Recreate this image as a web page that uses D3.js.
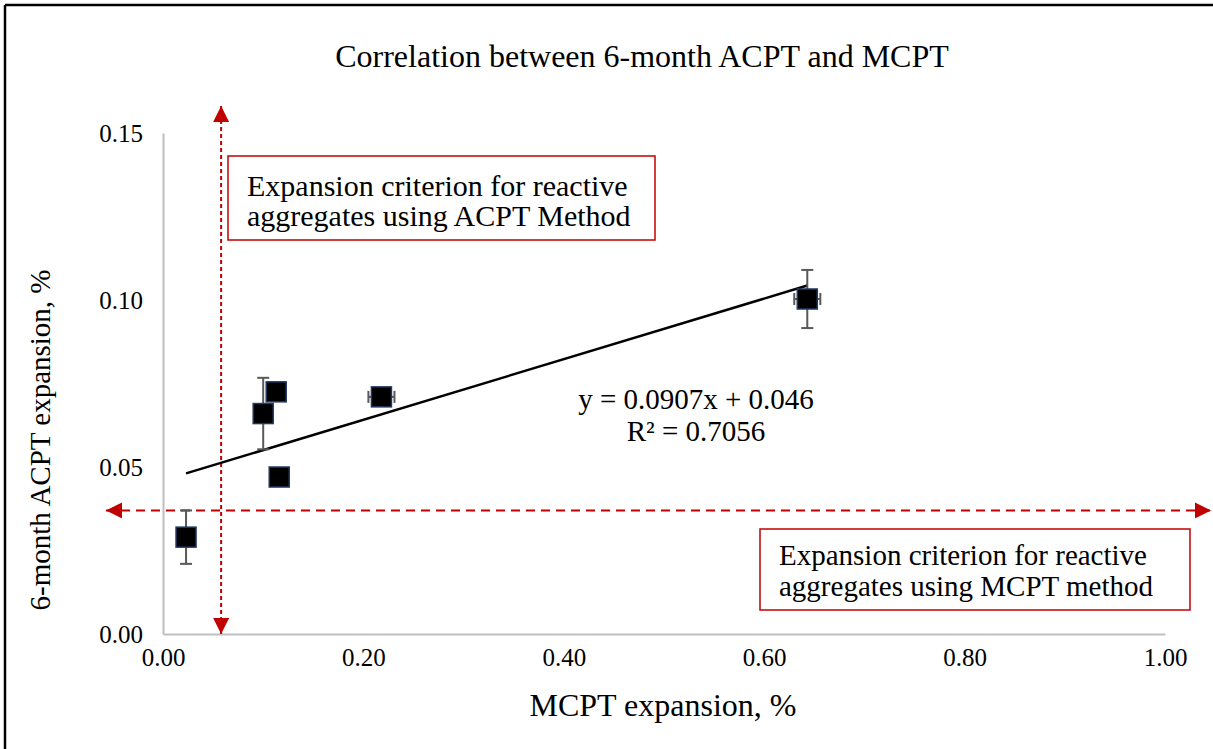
<!DOCTYPE html>
<html>
<head>
<meta charset="utf-8">
<script src="https://cdn.jsdelivr.net/npm/d3@7"></script>
<style>
  body { margin: 0; background: #fff; }
  svg { display: block; font-family: "Liberation Serif", "Times New Roman", serif; }
</style>
</head>
<body>
<svg id="chart" width="1213" height="749"></svg>
<script>
// data
const mcpt = [0.023, 0.100, 0.113, 0.116, 0.218, 0.643];
const acpt = [0.029, 0.066, 0.0725, 0.047, 0.071, 0.1003];
const acptErr = [0.008, 0.0107, 0, 0, 0, 0.0087];
const mcptErr = [0, 0, 0, 0, 0.013, 0.013];
const xTicks = [0, 0.2, 0.4, 0.6, 0.8, 1.0];
const yTicks = [0, 0.05, 0.10, 0.15];
const slope = 0.0907, intercept = 0.046;
const trendRange = [0.023, 0.643];
const acptCriterion = 0.037;   // horizontal red line
const mcptCriterion = 0.058;   // vertical red line

const svg = d3.select("#chart");

// outer frame (top and left edges visible)
svg.append("line").attr("x1", 5).attr("y1", 5).attr("x2", 1213).attr("y2", 5)
    .attr("stroke", "#000").attr("stroke-width", 2.5);
svg.append("line").attr("x1", 5).attr("y1", 5).attr("x2", 5).attr("y2", 749)
    .attr("stroke", "#000").attr("stroke-width", 2.5);

const x = d3.scaleLinear().domain([0, 1]).range([163, 1165]);
const y = d3.scaleLinear().domain([0, 0.15]).range([634, 133]);

// axes
const xAxis = svg.append("g").attr("transform", "translate(0,634)")
    .call(d3.axisBottom(x).tickValues(xTicks).tickFormat(d3.format(".2f")).tickSize(0).tickPadding(14));
const yAxis = svg.append("g").attr("transform", "translate(163,0)")
    .call(d3.axisLeft(y).tickValues(yTicks).tickFormat(d3.format(".2f")).tickSize(0).tickPadding(20));
[xAxis, yAxis].forEach(g => {
  g.select(".domain").attr("stroke", "#bfbfbf").attr("stroke-width", 2);
  g.selectAll("text").attr("font-size", 25).attr("fill", "#000")
    .attr("font-family", "Liberation Serif, serif");
});
xAxis.selectAll("text").attr("dy", "0.72em");

// title and axis titles
svg.append("text").attr("x", 642).attr("y", 67).attr("text-anchor", "middle")
    .attr("font-size", 32).text("Correlation between 6-month ACPT and MCPT");
svg.append("text").attr("x", 663).attr("y", 716).attr("text-anchor", "middle")
    .attr("font-size", 32).text("MCPT expansion, %");
svg.append("text").attr("transform", "translate(50,440) rotate(-90)").attr("text-anchor", "middle")
    .attr("font-size", 29).text("6-month ACPT expansion, %");

// red markers for arrows
const defs = svg.append("defs");
defs.append("marker").attr("id", "arrow").attr("viewBox", "0 0 10 10")
    .attr("refX", 10).attr("refY", 5).attr("markerWidth", 16).attr("markerHeight", 16)
    .attr("markerUnits", "userSpaceOnUse").attr("orient", "auto-start-reverse")
    .append("path").attr("d", "M0,0 L10,5 L0,10 Z").attr("fill", "#c00000");

// criterion lines
svg.append("line")
    .attr("x1", x(mcptCriterion)).attr("x2", x(mcptCriterion))
    .attr("y1", 106).attr("y2", 634)
    .attr("stroke", "#c00000").attr("stroke-width", 2).attr("stroke-dasharray", "4,3")
    .attr("marker-start", "url(#arrow)").attr("marker-end", "url(#arrow)");
svg.append("line")
    .attr("x1", 106).attr("x2", 1211)
    .attr("y1", y(acptCriterion)).attr("y2", y(acptCriterion))
    .attr("stroke", "#c00000").attr("stroke-width", 2).attr("stroke-dasharray", "9,6")
    .attr("marker-start", "url(#arrow)").attr("marker-end", "url(#arrow)");

// text boxes
const boxes = [
  { x: 228, y: 156, w: 427, h: 84, fs: 30, dy: [40, 70], lines: ["Expansion criterion for reactive", "aggregates using ACPT Method"] },
  { x: 760, y: 529, w: 430, h: 81, fs: 29, dy: [36, 67], lines: ["Expansion criterion for reactive", "aggregates using MCPT method"] }
];
boxes.forEach(b => {
  svg.append("rect").attr("x", b.x).attr("y", b.y).attr("width", b.w).attr("height", b.h)
      .attr("fill", "#fff").attr("stroke", "#c00000").attr("stroke-width", 1.5);
  b.lines.forEach((t, i) => {
    svg.append("text").attr("x", b.x + 19).attr("y", b.y + b.dy[i])
        .attr("font-size", b.fs).text(t);
  });
});

// trendline
svg.append("line")
    .attr("x1", x(trendRange[0])).attr("y1", y(slope * trendRange[0] + intercept))
    .attr("x2", x(trendRange[1])).attr("y2", y(slope * trendRange[1] + intercept))
    .attr("stroke", "#000").attr("stroke-width", 2.5);

// equation
svg.append("text").attr("x", 696).attr("y", 409).attr("text-anchor", "middle")
    .attr("font-size", 29).text("y = 0.0907x + 0.046");
svg.append("text").attr("x", 696).attr("y", 441).attr("text-anchor", "middle")
    .attr("font-size", 29).text("R² = 0.7056");

// error bars
const pts = mcpt.map((v, i) => ({ x: v, y: acpt[i], ey: acptErr[i], ex: mcptErr[i] }));
const eb = svg.append("g").attr("stroke", "#595959").attr("stroke-width", 2);
pts.forEach(p => {
  if (p.ey > 0) {
    eb.append("line").attr("x1", x(p.x)).attr("x2", x(p.x))
        .attr("y1", y(p.y - p.ey)).attr("y2", y(p.y + p.ey));
    [p.y - p.ey, p.y + p.ey].forEach(v => eb.append("line")
        .attr("x1", x(p.x) - 6).attr("x2", x(p.x) + 6).attr("y1", y(v)).attr("y2", y(v)));
  }
  if (p.ex > 0) {
    eb.append("line").attr("y1", y(p.y)).attr("y2", y(p.y))
        .attr("x1", x(p.x - p.ex)).attr("x2", x(p.x + p.ex));
    [p.x - p.ex, p.x + p.ex].forEach(v => eb.append("line")
        .attr("y1", y(p.y) - 6).attr("y2", y(p.y) + 6).attr("x1", x(v)).attr("x2", x(v)));
  }
});

// markers
svg.append("g").selectAll("rect").data(pts).join("rect")
    .attr("x", d => x(d.x) - 10).attr("y", d => y(d.y) - 10)
    .attr("width", 20).attr("height", 20)
    .attr("fill", "#000").attr("stroke", "#1f3864").attr("stroke-width", 1.5);
</script>
</body>
</html>
